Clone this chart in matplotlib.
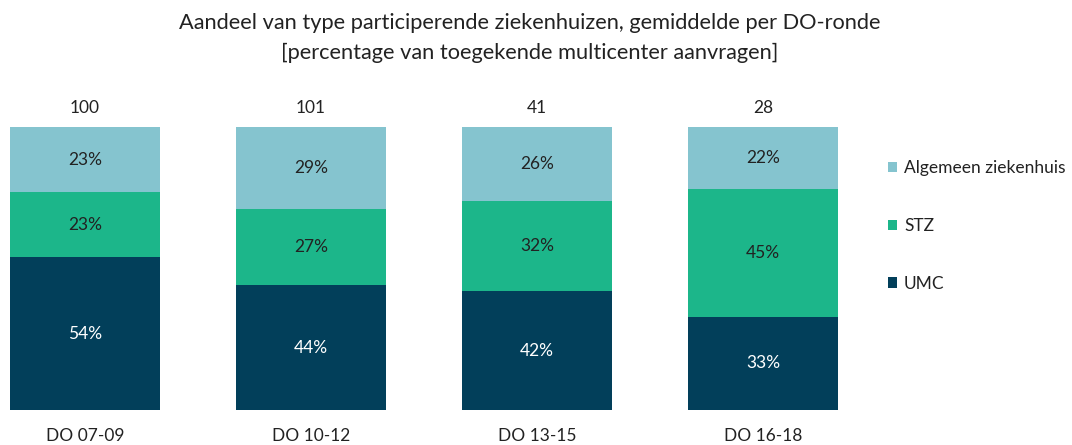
import matplotlib.pyplot as plt
import numpy as np
from matplotlib.patches import Patch

plt.rcParams['font.family'] = ['Lato', 'DejaVu Sans']

rondes = ['DO 07-09', 'DO 10-12', 'DO 13-15', 'DO 16-18']
totalen = [100, 101, 41, 28]
umc = [54, 44, 42, 33]
stz = [23, 27, 32, 45]
algemeen = [23, 29, 26, 22]

series = [('UMC', umc, '#023f5a', 'white'),
          ('STZ', stz, '#1cb68a', '#222222'),
          ('Algemeen ziekenhuis', algemeen, '#85c4cf', '#222222')]

W, H = 1072, 445
fig = plt.figure(figsize=(W / 100, H / 100), dpi=100)
ax = fig.add_axes([10 / W, 35 / H, 828 / W, 283 / H])

x = np.arange(len(rondes))
bottom = np.zeros(len(rondes))
handles = []
for name, vals, color, tcolor in series:
    vals = np.array(vals, dtype=float)
    ax.bar(x, vals, width=0.664, bottom=bottom, color=color, edgecolor='none')
    for xi, b, v in zip(x, bottom, vals):
        ax.text(xi, b + v / 2, f'{int(v)}%', ha='center', va='center',
                color=tcolor, fontsize=12.5)
    bottom += vals
    handles.append(Patch(facecolor=color, label=name))

for xi, b, t in zip(x, bottom, totalen):
    ax.annotate(str(t), (xi, b), xytext=(0, 8), textcoords='offset points',
                ha='center', va='bottom', fontsize=12.5, color='#222222')

ax.set_xlim(-0.332, 3.332)
ax.set_ylim(0, 100)
ax.set_xticks(x)
ax.set_xticklabels(rondes, fontsize=12.5, color='#222222')
ax.tick_params(axis='x', length=0, pad=13)
ax.set_yticks([])
for s in ax.spines.values():
    s.set_visible(False)

fig.text(530 / W, 1 - 23 / H, 'Aandeel van type participerende ziekenhuizen, gemiddelde per DO-ronde',
         ha='center', va='center', fontsize=15.7, color='#222222')
fig.text(530 / W, 1 - 53 / H, '[percentage van toegekende multicenter aanvragen]',
         ha='center', va='center', fontsize=15.7, color='#222222')

leg = fig.legend(handles=handles[::-1], loc='center left',
                 bbox_to_anchor=(872 / W, 1 - 226 / H), frameon=False,
                 fontsize=12.5, labelspacing=2.4, handlelength=0.55,
                 handleheight=0.55, handletextpad=0.4, labelcolor='#222222')

fig.savefig('out.png', dpi=100)
